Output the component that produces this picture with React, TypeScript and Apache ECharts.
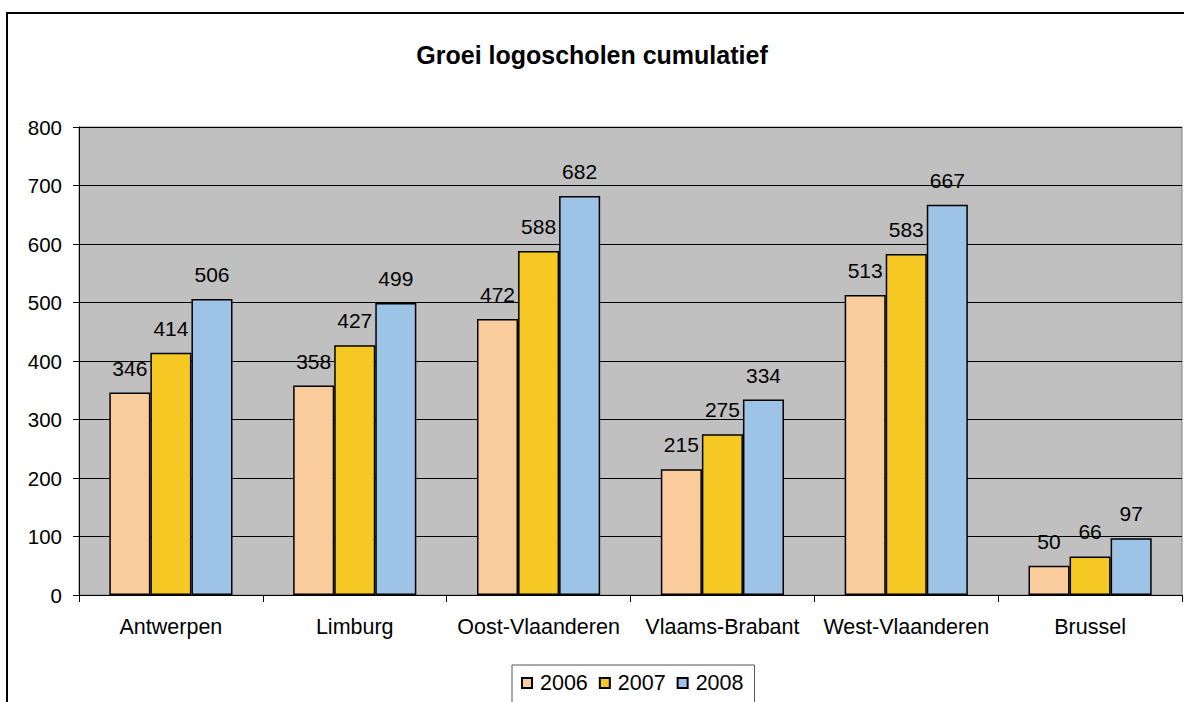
import React, { useEffect, useRef } from "react";
import * as echarts from "echarts";

const categories = ["Antwerpen", "Limburg", "Oost-Vlaanderen", "Vlaams-Brabant", "West-Vlaanderen", "Brussel"];
const values2006 = [346, 358, 472, 215, 513, 50];
const values2007 = [414, 427, 588, 275, 583, 66];
const values2008 = [506, 499, 682, 334, 667, 97];
const seriesNames = ["2006", "2007", "2008"];
const colors = ["#FACB9B", "#F5C823", "#9DC3E6"];
const yTicks = { min: 0, max: 800, interval: 100 };

export default function App() {
  const ref = useRef<HTMLDivElement>(null);
  useEffect(() => {
    document.body.style.margin = "0";
    const chart = echarts.init(ref.current!, null, { renderer: "svg" });
    const font = "'Liberation Sans', Arial, sans-serif";
    const data = [values2006, values2007, values2008];
    chart.setOption({
      animation: false,
      backgroundColor: "#ffffff",
      textStyle: { fontFamily: font },
      title: {
        text: "Groei logoscholen cumulatief",
        left: "center",
        top: 37,
        textStyle: { fontFamily: font, fontSize: 25, fontWeight: "bold", color: "#000" },
      },
      graphic: [
        {
          type: "rect",
          shape: { x: 7, y: 13, width: 1190, height: 720 },
          style: { fill: "none", stroke: "#000", lineWidth: 2 },
          silent: true,
          z: 100,
        },
      ],
      legend: {
        top: 665,
        left: 512,
        data: seriesNames,
        itemWidth: 10,
        itemHeight: 10,
        itemGap: 11,
        padding: [7, 11, 30, 9],
        borderColor: "#555",
        borderWidth: 1,
        icon: "rect",
        textStyle: { fontFamily: font, fontSize: 21.5, color: "#000", padding: [0, 0, 0, 3] },
      },
      grid: {
        left: 79,
        right: 2,
        top: 127,
        bottom: 107,
        show: true,
        backgroundColor: "#C0C0C0",
        borderColor: "#808080",
        borderWidth: 1,
        containLabel: false,
      },
      xAxis: {
        type: "category",
        data: categories,
        axisLine: { lineStyle: { color: "#000", width: 1 } },
        axisTick: { show: true, length: 7, lineStyle: { color: "#000" }, alignWithLabel: false },
        axisLabel: { fontFamily: font, fontSize: 21.5, color: "#000", margin: 21, interval: 0 },
      },
      yAxis: {
        type: "value",
        min: yTicks.min,
        max: yTicks.max,
        interval: yTicks.interval,
        axisLine: { show: true, lineStyle: { color: "#000", width: 1 } },
        axisTick: { show: true, length: 6, lineStyle: { color: "#000" } },
        axisLabel: { fontFamily: font, fontSize: 20.5, color: "#000", margin: 17 },
        splitLine: { show: true, lineStyle: { color: "#000", width: 1 } },
      },
      series: seriesNames.map((name, i) => ({
        name,
        type: "bar",
        data: data[i],
        barGap: "0%",
        barCategoryGap: "33%",
        itemStyle: { color: colors[i], borderColor: "#000", borderWidth: 1.5 },
        label: {
          show: true,
          position: "top",
          distance: 14,
          fontFamily: font,
          fontSize: 21,
          color: "#000",
        },
      })),
    });
    return () => chart.dispose();
  }, []);
  return <div ref={ref} style={{ width: 1184, height: 702 }} />;
}
